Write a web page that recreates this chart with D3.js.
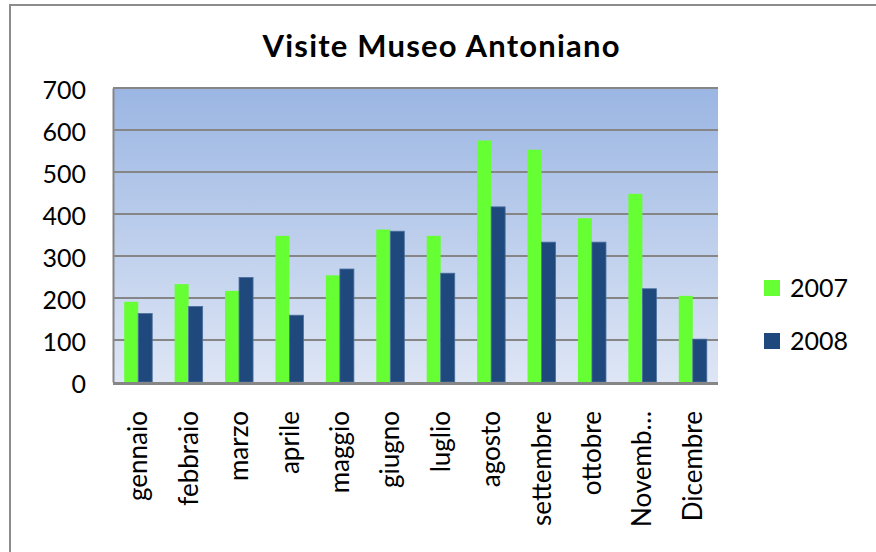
<!DOCTYPE html>
<html>
<head>
<meta charset="utf-8">
<script src="https://cdn.jsdelivr.net/npm/d3@7"></script>
<style>
  html, body { margin: 0; padding: 0; background: #fff; }
  svg { display: block; font-family: Lato, "Open Sans", sans-serif; }
</style>
</head>
<body>
<svg id="chart" width="876" height="552"></svg>
<script>
const months = ["gennaio", "febbraio", "marzo", "aprile", "maggio", "giugno",
  "luglio", "agosto", "settembre", "ottobre", "Novemb…", "Dicembre"];
const years = ["2007", "2008"];
const visits2007 = [191, 233, 217, 348, 254, 363, 348, 575, 553, 390, 448, 205];
const visits2008 = [163, 180, 249, 159, 269, 359, 259, 417, 333, 333, 222, 102];
const yTicks = [0, 100, 200, 300, 400, 500, 600, 700];
const colors = ["#66ff33", "#1f497d"];

const svg = d3.select("#chart");
const plot = { left: 113, right: 718, top: 88, bottom: 382 };

// outer frame (only top and left are visible in the picture)
svg.append("path")
  .attr("d", "M10,552 L10,5 L876,5")
  .attr("fill", "none")
  .attr("stroke", "#8c8c8c")
  .attr("stroke-width", 2);

const defs = svg.append("defs");
const grad = defs.append("linearGradient")
  .attr("id", "bg").attr("x1", 0).attr("y1", 0).attr("x2", 0).attr("y2", 1);
grad.append("stop").attr("offset", "0%").attr("stop-color", "#9bb6e3");
grad.append("stop").attr("offset", "100%").attr("stop-color", "#dee6f5");

const x0 = d3.scaleBand()
  .domain(months)
  .range([plot.left, plot.right])
  .paddingInner(0.444)
  .paddingOuter(0.222);
const x1 = d3.scaleBand()
  .domain(years)
  .range([0, x0.bandwidth()]);
const y = d3.scaleLinear()
  .domain([0, 700])
  .range([plot.bottom, plot.top]);

svg.append("rect")
  .attr("x", plot.left).attr("y", plot.top)
  .attr("width", plot.right - plot.left)
  .attr("height", plot.bottom - plot.top)
  .attr("fill", "url(#bg)");

// gridlines
svg.append("g")
  .selectAll("line")
  .data(yTicks.filter(d => d > 0))
  .join("line")
  .attr("x1", plot.left).attr("x2", plot.right)
  .attr("y1", d => y(d)).attr("y2", d => y(d))
  .attr("stroke", "#868686")
  .attr("stroke-width", 2);

// bars
const rows = months.map((m, i) => ({ month: m, values: [visits2007[i], visits2008[i]] }));
const groups = svg.append("g")
  .selectAll("g")
  .data(rows)
  .join("g")
  .attr("transform", d => `translate(${x0(d.month)},0)`);

groups.selectAll("rect")
  .data(d => d.values.map((v, k) => ({ year: years[k], value: v, k })))
  .join("rect")
  .attr("x", d => x1(d.year))
  .attr("y", d => y(d.value))
  .attr("width", x1.bandwidth())
  .attr("height", d => y(0) - y(d.value))
  .attr("fill", d => colors[d.k])
  .attr("stroke", d => d.k === 1 ? "#4a6f9e" : "none")
  .attr("stroke-width", 0.8);

// axes
const yAxis = svg.append("g")
  .attr("transform", `translate(${plot.left},0)`)
  .call(d3.axisLeft(y).tickValues(yTicks).tickSize(0).tickPadding(27));
yAxis.select(".domain").attr("stroke", "#868686").attr("stroke-width", 2);
yAxis.selectAll("text")
  .attr("font-family", "Lato, sans-serif")
  .attr("font-size", 25)
  .attr("fill", "#000")
  .attr("dy", "0.4em");

const xAxis = svg.append("g")
  .attr("transform", `translate(0,${plot.bottom})`)
  .call(d3.axisBottom(x0).tickSize(0).tickPadding(0));
xAxis.select(".domain").attr("stroke", "#868686").attr("stroke-width", 3)
  .attr("d", `M${plot.left},1.5H${plot.right}`);
xAxis.selectAll("text")
  .attr("font-family", "Lato, sans-serif")
  .attr("font-size", 26)
  .attr("fill", "#000")
  .attr("text-anchor", "end")
  .attr("transform", "translate(0,29) rotate(-90)")
  .attr("x", 0)
  .attr("y", 0)
  .attr("dy", "0.35em");

// title
svg.append("text")
  .attr("x", 441).attr("y", 57)
  .attr("text-anchor", "middle")
  .attr("font-family", "Lato, sans-serif")
  .attr("font-weight", "bold")
  .attr("font-size", 31)
  .attr("textLength", 357)
  .attr("lengthAdjust", "spacing")
  .text("Visite Museo Antoniano");

// legend
const legend = svg.append("g")
  .selectAll("g")
  .data(years)
  .join("g")
  .attr("transform", (d, i) => `translate(764,${280 + i * 53})`);
legend.append("rect")
  .attr("width", 16).attr("height", 16)
  .attr("fill", (d, i) => colors[i]);
legend.append("text")
  .attr("x", 26).attr("y", 17)
  .attr("font-family", "Lato, sans-serif")
  .attr("font-size", 25)
  .text(d => d);
</script>
</body>
</html>
